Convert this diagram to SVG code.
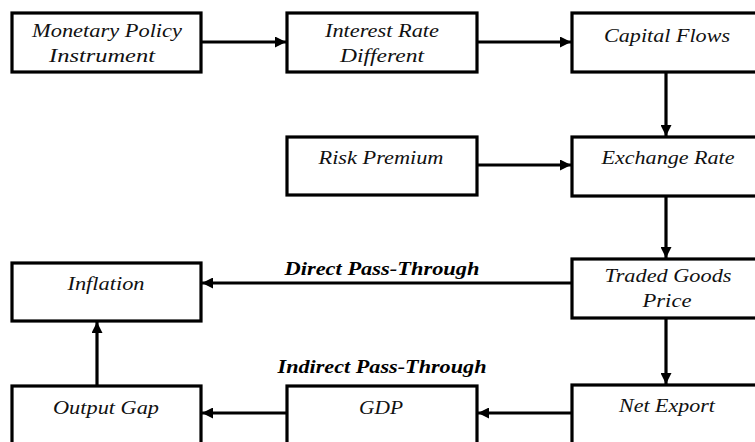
<svg xmlns="http://www.w3.org/2000/svg" width="755" height="442" viewBox="0 0 755 442">
<style>
.box{fill:#fff;stroke:#000;stroke-width:3.2}
.t{font-family:"Liberation Serif","Times New Roman",serif;font-style:italic;font-size:19px;fill:#111;text-anchor:middle}
.lbl{font-family:"Liberation Serif","Times New Roman",serif;font-style:italic;font-weight:bold;font-size:18px;fill:#000;text-anchor:middle}
.c{stroke:#000;stroke-width:3.2;fill:none;marker-end:url(#ah)}
</style>
<defs>
<marker id="ah" markerUnits="userSpaceOnUse" markerWidth="12" markerHeight="11" refX="11" refY="5.5" orient="auto">
<path d="M0,0 L11,5.5 L0,11 z" fill="#000"/>
</marker>
</defs>
<rect width="755" height="442" fill="#fff"/>
<g id="connectors">
<line class="c" x1="201" y1="42" x2="286" y2="42"/>
<line class="c" x1="477" y1="42" x2="571" y2="42"/>
<line class="c" x1="666" y1="72" x2="666" y2="136"/>
<line class="c" x1="477" y1="165" x2="571" y2="165"/>
<line class="c" x1="666" y1="196" x2="666" y2="258"/>
<line class="c" x1="572" y1="283" x2="202" y2="283"/>
<line class="c" x1="666" y1="318" x2="666" y2="384"/>
<line class="c" x1="572" y1="413" x2="478" y2="413"/>
<line class="c" x1="287" y1="413" x2="202" y2="413"/>
<line class="c" x1="97" y1="386" x2="97" y2="322"/>
<text class="lbl" x="382" y="275" textLength="195" lengthAdjust="spacingAndGlyphs">Direct Pass-Through</text>
<text class="lbl" x="382" y="373" textLength="209" lengthAdjust="spacingAndGlyphs">Indirect Pass-Through</text>
</g>
<g id="monetary">
<rect class="box" x="12" y="13" width="189" height="59"/>
<text class="t" x="107" y="37" textLength="150" lengthAdjust="spacingAndGlyphs">Monetary Policy</text>
<text class="t" x="102" y="62" textLength="106" lengthAdjust="spacingAndGlyphs">Instrument</text>
</g>
<g id="interest">
<rect class="box" x="287" y="13" width="190" height="59"/>
<text class="t" x="382" y="37" textLength="114" lengthAdjust="spacingAndGlyphs">Interest Rate</text>
<text class="t" x="382" y="62" textLength="84" lengthAdjust="spacingAndGlyphs">Different</text>
</g>
<g id="capital">
<rect class="box" x="572" y="13" width="190" height="59"/>
<text class="t" x="667" y="42" textLength="126" lengthAdjust="spacingAndGlyphs">Capital Flows</text>
</g>
<g id="risk">
<rect class="box" x="287" y="137" width="190" height="58"/>
<text class="t" x="381" y="164" textLength="125" lengthAdjust="spacingAndGlyphs">Risk Premium</text>
</g>
<g id="exchange">
<rect class="box" x="572" y="137" width="190" height="59"/>
<text class="t" x="668" y="164" textLength="133" lengthAdjust="spacingAndGlyphs">Exchange Rate</text>
</g>
<g id="traded">
<rect class="box" x="572" y="259" width="190" height="59"/>
<text class="t" x="668" y="282" textLength="127" lengthAdjust="spacingAndGlyphs">Traded Goods</text>
<text class="t" x="667" y="307" textLength="49" lengthAdjust="spacingAndGlyphs">Price</text>
</g>
<g id="inflation">
<rect class="box" x="12" y="263" width="189" height="58"/>
<text class="t" x="106" y="290" textLength="77" lengthAdjust="spacingAndGlyphs">Inflation</text>
</g>
<g id="outputgap">
<rect class="box" x="12" y="386" width="189" height="62"/>
<text class="t" x="106" y="414" textLength="106" lengthAdjust="spacingAndGlyphs">Output Gap</text>
</g>
<g id="gdp">
<rect class="box" x="287" y="386" width="190" height="62"/>
<text class="t" x="381" y="414" textLength="44" lengthAdjust="spacingAndGlyphs">GDP</text>
</g>
<g id="netexport">
<rect class="box" x="572" y="385" width="190" height="63"/>
<text class="t" x="667" y="412" textLength="96" lengthAdjust="spacingAndGlyphs">Net Export</text>
</g>
</svg>
